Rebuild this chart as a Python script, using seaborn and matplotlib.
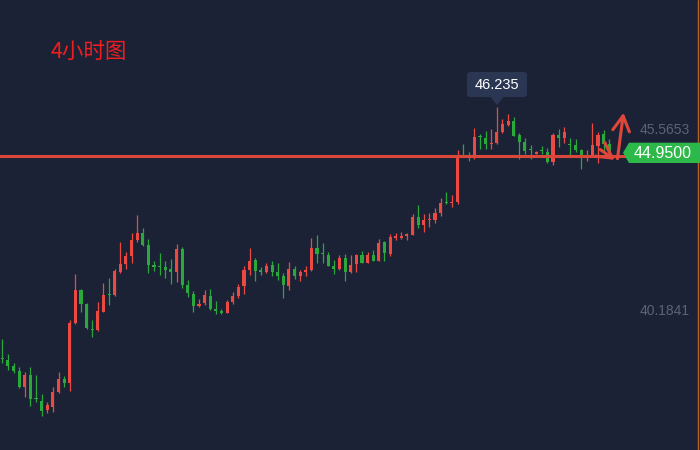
import numpy as np
import pandas as pd
import matplotlib
matplotlib.use("Agg")
import matplotlib.pyplot as plt
import seaborn as sns
from matplotlib.patches import Polygon, FancyBboxPatch

# 4h candles (price units)
opens = [38.79, 38.73, 38.55, 38.40, 37.93, 38.28, 37.59, 37.51, 37.24, 37.34,
         37.78, 38.16, 38.05, 39.83, 40.81, 40.39, 39.65, 39.62, 40.16, 40.69,
         40.66, 41.35, 41.58, 41.83, 42.30, 42.50, 42.15, 41.55, 41.52, 41.49,
         41.43, 41.34, 42.03, 40.96, 40.69, 40.33, 40.42, 40.63, 40.24, 40.18,
         40.12, 40.45, 40.63, 40.93, 41.40, 41.70, 41.40, 41.34, 41.55, 41.34,
         41.22, 40.93, 41.43, 41.22, 41.34, 41.40, 42.06, 41.89, 41.85, 41.52,
         41.43, 41.76, 41.34, 41.58, 41.85, 41.61, 41.85, 41.67, 42.24, 41.88,
         42.35, 42.35, 42.41, 42.44, 42.98, 42.74, 42.89, 42.89, 43.10, 43.40,
         43.38, 43.43, 44.83, 44.80, 44.79, 45.37, 45.33, 45.16, 45.18, 45.51,
         45.71, 45.83, 45.42, 45.21, 44.98, 44.86, 44.95, 44.91, 44.61, 45.42,
         45.33, 45.13, 45.12, 44.97, 44.78, 44.79, 45.09, 45.45, 45.15]
highs = [39.34, 38.91, 38.63, 38.51, 38.36, 38.51, 38.28, 37.71, 37.48, 37.92,
         38.37, 38.25, 39.92, 41.28, 40.84, 40.41, 39.92, 40.45, 41.02, 41.17,
         41.42, 42.24, 41.94, 42.50, 43.04, 42.65, 42.32, 41.67, 41.91, 41.67,
         41.72, 42.18, 42.09, 41.11, 40.78, 40.54, 40.81, 40.84, 40.48, 40.24,
         40.51, 40.75, 40.99, 41.53, 42.06, 41.76, 41.49, 41.61, 41.67, 41.61,
         41.31, 41.64, 41.52, 41.40, 41.52, 42.35, 42.44, 42.21, 41.94, 41.70,
         41.85, 41.88, 41.85, 41.88, 41.97, 41.94, 42.00, 42.32, 42.27, 42.47,
         42.50, 42.53, 42.50, 43.07, 43.34, 43.07, 43.11, 43.25, 43.54, 43.72,
         43.63, 44.97, 45.15, 44.91, 45.62, 45.45, 45.54, 45.59, 46.235, 45.89,
         46.04, 45.95, 45.48, 45.33, 45.12, 44.94, 45.09, 45.03, 45.48, 45.59,
         45.65, 45.33, 45.30, 45.00, 44.97, 45.77, 45.51, 45.57, 45.30]
lows = [38.63, 38.43, 38.35, 37.90, 37.64, 37.37, 37.49, 37.07, 37.16, 37.19,
        37.73, 37.93, 37.79, 39.80, 40.16, 39.66, 39.42, 39.60, 40.14, 40.37,
        40.64, 41.31, 41.44, 41.62, 42.22, 42.13, 41.32, 41.38, 41.26, 41.17,
        40.99, 41.06, 40.88, 40.61, 40.16, 40.31, 40.37, 40.21, 40.10, 40.10,
        40.11, 40.40, 40.57, 40.69, 41.25, 41.08, 41.25, 41.31, 41.22, 41.11,
        40.57, 40.81, 41.14, 41.08, 41.22, 41.38, 41.61, 41.61, 41.51, 41.28,
        41.40, 41.08, 41.32, 41.34, 41.61, 41.60, 41.67, 41.66, 41.67, 41.82,
        42.30, 42.32, 42.30, 42.43, 42.65, 42.53, 42.69, 42.81, 43.02, 43.36,
        43.28, 43.36, 44.79, 44.64, 44.70, 45.00, 45.00, 45.00, 45.15, 45.49,
        45.68, 45.38, 44.70, 44.85, 44.70, 44.85, 44.85, 44.58, 44.52, 45.06,
        45.18, 44.79, 44.91, 44.41, 44.64, 44.78, 44.58, 44.94, 44.82]
closes = [38.76, 38.55, 38.40, 37.93, 38.28, 37.57, 37.56, 37.22, 37.39, 37.78,
          38.16, 38.05, 39.83, 40.81, 40.40, 39.68, 39.63, 40.18, 40.66, 40.67,
          41.37, 41.58, 41.82, 42.30, 42.50, 42.15, 41.55, 41.49, 41.50, 41.40,
          41.34, 42.03, 40.96, 40.72, 40.33, 40.39, 40.66, 40.24, 40.18, 40.11,
          40.45, 40.63, 40.90, 41.40, 41.67, 41.37, 41.34, 41.52, 41.34, 41.22,
          40.96, 41.43, 41.22, 41.34, 41.40, 42.06, 41.88, 41.87, 41.53, 41.43,
          41.76, 41.34, 41.55, 41.85, 41.61, 41.85, 41.67, 42.21, 41.91, 42.38,
          42.41, 42.41, 42.47, 42.98, 42.74, 42.89, 42.93, 43.10, 43.39, 43.38,
          43.43, 44.74, 44.80, 44.76, 45.36, 45.35, 45.15, 45.18, 45.51, 45.74,
          45.83, 45.39, 45.21, 44.94, 44.96, 44.92, 44.93, 44.61, 45.42, 45.33,
          45.51, 45.11, 44.97, 44.79, 44.80, 45.12, 45.42, 45.15, 44.95]

axis_labels = [45.5653, 40.1841]
last_price = 44.95
peak_price = 46.235
support_level = 44.80
title = "4小时图"

BG = "#1c2236"
UP = "#ec4a40"
DOWN = "#2aa83c"

sns.set_theme(style="dark", rc={"axes.facecolor": BG, "figure.facecolor": BG})
plt.rcParams["font.family"] = ["Liberation Sans", "DejaVu Sans"]

df = pd.DataFrame({"open": opens, "high": highs, "low": lows, "close": closes})
df["idx"] = np.arange(len(df))
df["up"] = df["close"] >= df["open"]
df["color"] = np.where(df["up"], UP, DOWN)
df["bottom"] = df[["open", "close"]].min(axis=1)
df["height"] = (df["close"] - df["open"]).abs().clip(lower=0.03)

fig = plt.figure(figsize=(7, 4.5), dpi=100)
ax = fig.add_axes([0, 0, 1, 1])
ax.set_facecolor(BG)

ax.vlines(df["idx"], df["low"], df["high"], colors=df["color"], lw=0.9, zorder=2)
ax.bar(df["idx"], df["height"], bottom=df["bottom"], width=0.55,
       color=df["color"], linewidth=0, zorder=3)

ax.set_xlim(-0.41, 124.15)
ax.set_ylim(36.05, 49.43)
ax.set_xticks([])
ax.set_yticks([])
for s in ax.spines.values():
    s.set_visible(False)

# hand drawn support line and arrows
ax.axhline(support_level, color="#d9473b", lw=2.2, zorder=4)
arrow_kw = dict(arrowstyle="->,head_length=0.9,head_width=0.5", color="#e0473a", lw=2.2)
ax.annotate("", xy=(109.4, 44.63), xytext=(106.0, 45.03), arrowprops=arrow_kw, zorder=5)
ax.annotate("", xy=(110.6, 46.16), xytext=(109.4, 44.63), arrowprops=arrow_kw, zorder=5)

# price labels on the right
for v in axis_labels:
    ax.text(690 / 700, v, f"{v:.4f}", transform=ax.get_yaxis_transform(),
            ha="right", va="center", color="#5d6376", fontsize=10)

# current price tag
tag = Polygon([(623 / 700, 1 - 152.8 / 450), (629 / 700, 1 - 142.7 / 450),
               (700 / 700, 1 - 142.7 / 450), (700 / 700, 1 - 163 / 450),
               (629 / 700, 1 - 163 / 450)], closed=True, transform=ax.transAxes,
              facecolor="#2db94a", edgecolor="none", zorder=6)
ax.add_patch(tag)
ax.text(663 / 700, 1 - 153 / 450, f"{last_price:.4f}", transform=ax.transAxes,
        ha="center", va="center", color="white", fontsize=11.5, zorder=7)

# high tooltip
box = FancyBboxPatch((467 / 700, 1 - 97 / 450), 60 / 700, 25 / 450,
                     boxstyle="round,pad=0,rounding_size=0.006", transform=ax.transAxes,
                     facecolor="#2b3652", edgecolor="none", zorder=6)
ax.add_patch(box)
ax.add_patch(Polygon([(490 / 700, 1 - 96.5 / 450), (504 / 700, 1 - 96.5 / 450),
                      (497 / 700, 1 - 105 / 450)], closed=True, transform=ax.transAxes,
                     facecolor="#2b3652", edgecolor="none", zorder=6))
ax.text(497 / 700, 1 - 85 / 450, f"{peak_price:.3f}", transform=ax.transAxes,
        ha="center", va="center", color="white", fontsize=10.5, zorder=7)

ax.text(51 / 700, 1 - 53 / 450, title, transform=ax.transAxes, ha="left", va="center",
        color="#f01e1e", fontsize=15.5, family=["Noto Sans CJK SC", "DejaVu Sans"])

# thin orange frame at the right edge
ax.plot([697.8 / 700] * 2, [0, 1], transform=ax.transAxes, color="#b8621e", lw=1.0)

fig.savefig("out.png", dpi=100, facecolor=BG)
